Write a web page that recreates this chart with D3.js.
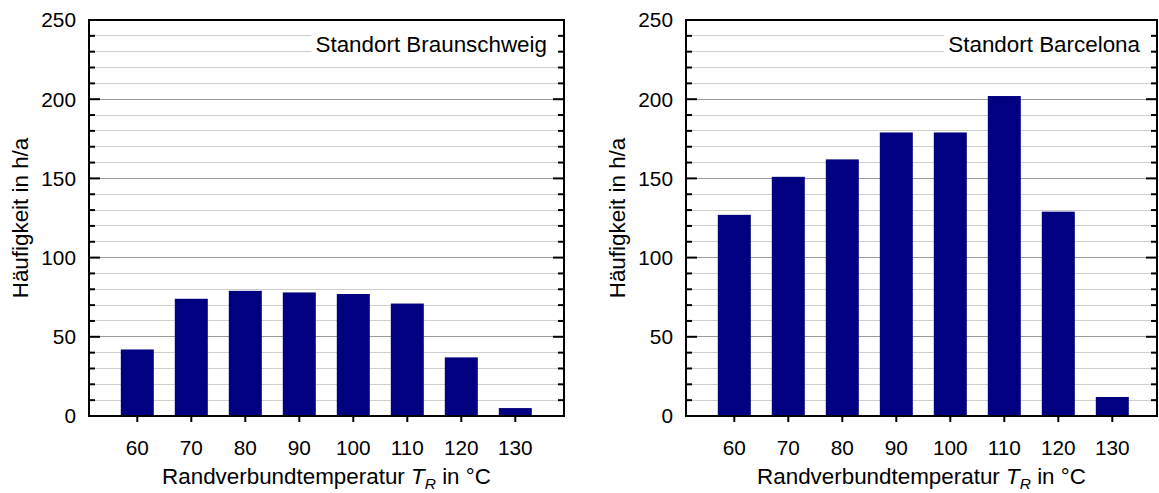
<!DOCTYPE html>
<html>
<head>
<meta charset="utf-8">
<script src="https://cdn.jsdelivr.net/npm/d3@7"></script>
<style>
  html, body { margin: 0; padding: 0; background: #fff; }
  svg { display: block; font-family: "Liberation Sans", Arial, sans-serif; }
</style>
</head>
<body>
<svg id="chart" width="1159" height="493"></svg>
<script>
// ---- data ----
const categories = [60, 70, 80, 90, 100, 110, 120, 130];
const braunschweig = [42, 74, 79, 78, 77, 71, 37, 5];
const barcelona = [127, 151, 162, 179, 179, 202, 129, 12];
const yTicks = [0, 50, 100, 150, 200, 250];
const yMinorTicks = d3.range(0, 251, 10);
const yLabel = "Häufigkeit in h/a";
const xLabelMain = "Randverbundtemperatur ";
const titles = ["Standort Braunschweig", "Standort Barcelona"];

// ---- layout ----
const svg = d3.select("#chart");
const panels = [
  { left: 89, right: 564, c0: 137.3, c1: 515.3, title: titles[0], values: braunschweig },
  { left: 686, right: 1157, c0: 734.3, c1: 1112.3, title: titles[1], values: barcelona }
];
const plotTop = 20, plotBottom = 416;
const barW = 33;
const navy = "#000080";
const titleSize = 22.4, tickSize = 20.8;

panels.forEach(p => {
  const g = svg.append("g");
  const y = d3.scaleLinear().domain([0, 250]).range([plotBottom, plotTop]);
  const x = d3.scaleLinear().domain([categories[0], categories[categories.length - 1]]).range([p.c0, p.c1]);

  // gridlines
  g.append("g").selectAll("line").data(yMinorTicks.filter(v => v > 0 && v < 250)).join("line")
    .attr("x1", p.left).attr("x2", p.right)
    .attr("y1", d => y(d)).attr("y2", d => y(d))
    .attr("stroke", d => d % 50 === 0 ? "#9a9a9a" : "#cfcfcf")
    .attr("stroke-width", 1)
    .attr("shape-rendering", "crispEdges");

  // bars
  g.append("g").selectAll("rect").data(categories.map((c, i) => ({ c, v: p.values[i] }))).join("rect")
    .attr("x", d => x(d.c) - barW / 2)
    .attr("width", barW)
    .attr("y", d => y(d.v))
    .attr("height", d => y(0) - y(d.v))
    .attr("fill", navy);

  // legend / title box
  const lg = g.append("g");
  const box = lg.append("rect").attr("fill", "#fff");
  const t = lg.append("text")
    .attr("x", p.right - 17).attr("y", 52)
    .attr("text-anchor", "end")
    .attr("font-size", titleSize)
    .attr("fill", "#000")
    .text(p.title);
  const bb = t.node().getBBox();
  box.attr("x", bb.x - 4).attr("y", 27).attr("width", p.right - (bb.x - 4)).attr("height", 33);

  // y axis ticks (inner, both sides)
  const tickG = g.append("g").attr("stroke", "#000").attr("stroke-width", 2);
  yMinorTicks.forEach(v => {
    const len = v % 50 === 0 ? 11 : 6;
    tickG.append("line").attr("x1", p.left).attr("x2", p.left + len).attr("y1", y(v)).attr("y2", y(v));
    tickG.append("line").attr("x1", p.right).attr("x2", p.right - len).attr("y1", y(v)).attr("y2", y(v));
  });
  // x axis ticks (outward)
  categories.forEach(c => {
    tickG.append("line").attr("x1", x(c)).attr("x2", x(c)).attr("y1", plotBottom).attr("y2", plotBottom + 6);
  });

  // frame
  g.append("rect")
    .attr("x", p.left).attr("y", plotTop)
    .attr("width", p.right - p.left).attr("height", plotBottom - plotTop)
    .attr("fill", "none").attr("stroke", "#000").attr("stroke-width", 2);

  // y tick labels
  g.append("g").selectAll("text").data(yTicks).join("text")
    .attr("x", p.left - 13).attr("y", d => y(d))
    .attr("dy", "0.36em")
    .attr("text-anchor", "end")
    .attr("font-size", tickSize)
    .text(d => d);

  // x tick labels
  g.append("g").selectAll("text").data(categories).join("text")
    .attr("x", d => x(d)).attr("y", 455)
    .attr("text-anchor", "middle")
    .attr("font-size", tickSize)
    .text(d => d);

  // y axis label
  g.append("text")
    .attr("transform", `translate(${p.left - 61},${(plotTop + plotBottom) / 2}) rotate(-90)`)
    .attr("text-anchor", "middle")
    .attr("font-size", titleSize)
    .text(yLabel);

  // x axis label
  const xl = g.append("text")
    .attr("x", (p.left + p.right) / 2).attr("y", 484)
    .attr("text-anchor", "middle")
    .attr("font-size", titleSize);
  xl.append("tspan").text(xLabelMain);
  xl.append("tspan").attr("font-style", "italic").text("T");
  xl.append("tspan").attr("font-style", "italic").attr("font-size", 15.5).attr("dy", 5).text("R");
  xl.append("tspan").attr("dy", -5).text(" in °C");
});
</script>
</body>
</html>
